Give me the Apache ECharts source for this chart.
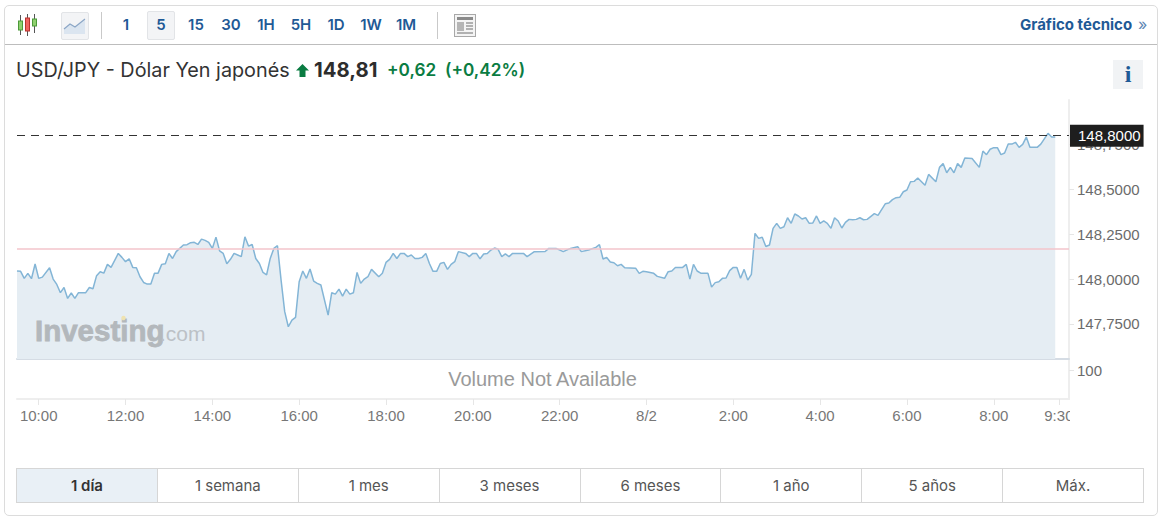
<!DOCTYPE html>
<html lang="es">
<head>
<meta charset="utf-8">
<title>USD/JPY</title>
<script src="https://cdn.jsdelivr.net/npm/echarts@6/dist/echarts.min.js"></script>
<style>
html,body{margin:0;padding:0;background:#fff;width:1166px;height:523px;overflow:hidden;font-family:Inter,"Noto Sans",sans-serif}
#frame{position:absolute;left:4px;top:5px;width:1152px;height:509px;border:1px solid #dcdcdc;border-radius:5px;box-sizing:content-box}
#toolbarLine{position:absolute;left:5px;top:44px;width:1152px;height:1px;background:#bdbdbd}
#chart{position:absolute;left:0;top:0;width:1166px;height:523px}
.abs{position:absolute;white-space:nowrap}
.tf{position:absolute;top:12px;height:26px;line-height:26px;font-size:15px;font-weight:600;color:#1f5a96;text-align:center;transform:translateX(-50%)}
.sep{position:absolute;top:12px;width:1px;height:27px;background:#c9c9c9}
.btn{position:absolute;background:#f3f4f6;border:1px solid #e2e4e7;border-radius:2px;box-sizing:border-box}
#tabs{position:absolute;left:16px;top:468px;width:1128px;height:35px;display:flex;box-sizing:border-box;border:1px solid #d6d6d6}
#tabs div{flex:1;text-align:center;line-height:33px;font-size:15px;color:#555;border-left:1px solid #d6d6d6}
#tabs div:first-child{border-left:0;background:#e9f0f6;font-weight:600;color:#333}
</style>
</head>
<body>
<div id="frame"></div>
<div id="toolbarLine"></div>

<svg class="abs" style="left:16px;top:13px" width="24" height="24" viewBox="0 0 24 24">
  <g stroke="#555" stroke-width="1"><path d="M4.500 2V22M11.500 1V23M18.500 1V20"/></g>
  <rect x="2.500" y="8" width="4" height="9" fill="#8fd06f" stroke="#4c9a3a"/>
  <rect x="9.500" y="5" width="4" height="13" fill="#f0635f" stroke="#b8322e"/>
  <rect x="16.500" y="6" width="4" height="7" fill="#8fd06f" stroke="#4c9a3a"/>
</svg>
<div class="btn" style="left:61px;top:12px;width:28px;height:28px"></div>
<svg class="abs" style="left:63px;top:15px" width="24" height="22" viewBox="0 0 24 22">
  <path d="M1 14L7 9L12 12L22 4V19H1Z" fill="#dbe5f0"/>
  <path d="M1 14L7 9L12 12L22 4" fill="none" stroke="#8ba6c6" stroke-width="1.200"/>
</svg>
<div class="sep" style="left:101px"></div>
<div class="btn" style="left:147px;top:11px;width:28px;height:29px"></div>
<div class="tf" style="left:126px">1</div>
<div class="tf" style="left:161px">5</div>
<div class="tf" style="left:196px">15</div>
<div class="tf" style="left:231px">30</div>
<div class="tf" style="left:266px">1H</div>
<div class="tf" style="left:301px">5H</div>
<div class="tf" style="left:336px">1D</div>
<div class="tf" style="left:371px">1W</div>
<div class="tf" style="left:406px">1M</div>
<div class="sep" style="left:437px"></div>
<svg class="abs" style="left:454px;top:14px" width="22" height="23" viewBox="0 0 22 23">
  <rect x="0.500" y="0.500" width="21" height="22" fill="#f4f4f4" stroke="#a8a8a8"/>
  <rect x="3" y="3" width="16" height="3" fill="#8a8a8a"/>
  <rect x="3" y="8" width="7" height="9" fill="#b5b5b5"/>
  <path d="M12 9H19M12 12H19M12 15H19M3 19H19" stroke="#9a9a9a" stroke-width="1.300"/>
</svg>
<div class="abs" style="left:1020px;top:15px;font-size:15px;font-weight:700;color:#1f5a96;line-height:20px">Gráfico técnico</div>
<div class="abs" style="left:1138px;top:14px;font-size:16px;color:#5d86b3;line-height:20px">»</div>

<div class="abs" style="left:16px;top:59px;font-size:19.800px;color:#333;line-height:22px">USD/JPY - Dólar Yen japonés</div>
<svg class="abs" style="left:296px;top:64px" width="13" height="13" viewBox="0 0 13 13"><path d="M6.500 0L13 6.500H9.500V13H3.500V6.500H0Z" fill="#0a7c42"/></svg>
<div class="abs" style="left:314px;top:58px;font-size:20.300px;font-weight:700;color:#2d2d2d;line-height:24px">148,81</div>
<div class="abs" style="left:387px;top:59px;font-size:17.200px;font-weight:600;color:#0a7c42;line-height:22px">+0,62</div>
<div class="abs" style="left:445px;top:59px;font-size:17.200px;font-weight:600;color:#0a7c42;line-height:22px">(+0,42%)</div>
<div class="abs" style="left:1113px;top:60px;width:30px;height:29px;background:#f1f3f5;text-align:center;font:700 24px/28px 'Liberation Serif',serif;color:#1f5a96">i</div>

<div id="chart"></div>

<div id="tabs">
  <div>1 día</div><div>1 semana</div><div>1 mes</div><div>3 meses</div><div>6 meses</div><div>1 año</div><div>5 años</div><div>Máx.</div>
</div>

<script>
// Five-minute bar number (0 = 9:30 on 1 Aug) of each vertex
const bars = [0,1,2,3,4,5,6,7,9,10,11,12,13,14,15,16,17,19,20,21,22,23,24,25,26,28,29,30,31,32,33,34,35,36,37,38,39,40,41,42,43,44,46,47,48,49,50,51,52,53,54,55,56,
57,58,59,60,61,62,63,64,65,66,67,68,69,70,71,72,73,74,75,76,77,78,79,80,81,82,83,84,86,87,88,89,90,91,92,93,94,95,96,97,98,100,101,102,103,104,105,106,107,108,109,110,111,112,113,114,
115,116,117,118,119,120,121,122,124,125,126,127,128,129,130,131,132,133,134,135,136,137,140,141,143,146,147,149,151,153,155,156,158,160,161,162,163,164,165,166,167,168,171,172,
173,174,176,177,179,180,181,182,184,185,186,187,188,189,191,192,193,194,195,196,197,198,199,200,201,202,203,204,205,206,207,208,209,210,211,212,213,214,215,216,217,218,219,220,221,222,223,224,225,226,227,228,229,230,
231,232,233,234,235,237,238,240,241,242,243,244,245,246,247,248,249,251,252,254,255,256,257,258,259,260,261,262,264,266,267,268,269,270,271,272,273,274,275,276,277,278,279,280,282,283,285,286,287];
// USD/JPY price at each of those vertices
const prices = [148.045,148.043,148.004,148.032,148.002,148.084,148.004,148.011,148.063,148.000,147.970,147.924,147.953,147.892,147.922,147.892,147.924,147.924,147.953,147.946,148.019,148.041,148.033,148.082,148.065,148.143,148.121,148.097,148.113,148.065,148.063,148.013,147.981,147.972,147.972,148.032,148.033,148.082,148.086,148.143,148.115,148.153,148.190,148.192,148.203,148.205,148.193,148.223,148.216,148.205,148.171,148.234,148.157,
148.143,148.086,148.110,148.143,148.134,148.125,148.236,148.184,148.193,148.115,148.087,148.037,148.024,148.115,148.171,148.186,147.994,147.818,147.734,147.771,147.786,147.985,148.045,148.004,148.056,147.989,147.976,147.967,147.799,147.924,147.916,147.944,147.905,147.944,147.916,147.924,148.037,147.976,148.000,148.013,148.054,148.013,148.032,148.093,148.110,148.143,148.115,148.143,148.143,148.125,148.134,148.115,148.115,148.121,148.143,148.087,
148.043,148.043,148.087,148.093,148.054,148.082,148.097,148.153,148.143,148.125,148.143,148.143,148.113,148.140,148.143,148.162,148.173,148.166,148.125,148.140,148.125,148.143,148.143,148.125,148.153,148.154,148.171,148.171,148.153,148.171,148.180,148.153,148.162,148.177,148.192,148.112,148.121,148.095,148.091,148.074,148.082,148.063,148.061,148.032,
148.043,148.041,148.032,148.015,148.004,148.041,148.045,148.065,148.065,148.082,148.000,148.082,148.045,148.033,148.032,147.955,147.980,147.985,148.004,148.006,148.047,148.065,148.065,148.004,148.054,147.994,148.026,148.255,148.227,148.233,148.182,148.190,148.283,148.311,148.283,148.292,148.342,148.311,148.363,148.352,148.335,148.342,148.311,148.313,148.352,148.311,148.324,148.311,148.283,148.342,148.324,148.285,148.316,148.333,
148.331,148.333,148.342,148.331,148.333,148.365,148.355,148.420,148.424,148.443,148.454,148.456,148.487,148.497,148.543,148.545,148.564,148.523,148.584,148.543,148.623,148.644,148.593,148.623,148.593,148.644,148.623,148.675,148.673,148.623,148.714,148.694,148.724,148.733,148.733,148.694,148.703,148.753,148.753,148.763,148.735,148.751,148.792,148.735,148.735,148.753,148.813,148.792,148.792];
const previousClose = 148.172;
const lastPrice = 148.798;
const lastPriceLabel = '148,8000';
const priceTicks = [147.75,148.00,148.25,148.50,148.75];
const volumeTicks = [100];
// Time-axis ticks, in minutes after 00:00 on 1 Aug, and their labels
const timeTicks = [600,720,840,960,1080,1200,1320,1440,1560,1680,1800,1920,2010];
const timeLabels = ['10:00','12:00','14:00','16:00','18:00','20:00','22:00','8/2','2:00','4:00','6:00','8:00','9:30'];

const comma = (v, d) => v.toFixed(d).replace('.', ',');
const axisFont = {fontFamily:'"Liberation Sans",Arial,sans-serif', fontSize:15, color:'#6b6b6b'};
const chart = echarts.init(document.getElementById('chart'), null, {renderer:'svg'});
const xMin = 570, xMax = 2024;

chart.setOption({
  animation:false,
  backgroundColor:'transparent',
  grid:[
    {left:17, right:97, top:100, height:259},
    {left:17, right:97, top:359, height:40}
  ],
  xAxis:[
    {type:'value', gridIndex:0, min:xMin, max:xMax, splitLine:{show:false},
     axisLine:{show:true, onZero:false, lineStyle:{color:'#d5dce4', width:2}}, axisTick:{show:false}, axisLabel:{show:false}},
    {type:'value', gridIndex:1, min:xMin, max:xMax, splitLine:{show:false},
     axisLine:{show:true, onZero:false, lineStyle:{color:'#eeeeee', width:2}},
     axisTick:{show:true, length:6, customValues:timeTicks, lineStyle:{color:'#e6e6e6'}},
     axisLabel:Object.assign({show:true, margin:9, customValues:timeTicks,
       formatter:v => timeLabels[timeTicks.indexOf(v)]}, axisFont, {color:'#777777'})}
  ],
  yAxis:[
    {type:'value', gridIndex:0, position:'right', min:147.554, max:148.999, splitLine:{show:false},
     axisLine:{show:true, onZero:false, lineStyle:{color:'#eeeeee', width:2}},
     axisTick:{show:true, length:5, customValues:priceTicks, lineStyle:{color:'#e6e6e6'}},
     axisLabel:Object.assign({show:true, margin:8, padding:[0,0,2,0], customValues:priceTicks, formatter:v => comma(v,4)}, axisFont)},
    {type:'value', gridIndex:1, position:'right', min:0, max:138, splitLine:{show:false},
     axisLine:{show:true, onZero:false, lineStyle:{color:'#eeeeee', width:2}},
     axisTick:{show:true, length:5, customValues:volumeTicks, lineStyle:{color:'#e6e6e6'}},
     axisLabel:Object.assign({show:true, margin:8, customValues:volumeTicks}, axisFont)}
  ],
  series:[{
    type:'line', xAxisIndex:0, yAxisIndex:0, symbol:'none', smooth:false,
    data:bars.map((b,i) => [570 + 5*b, prices[i]]),
    lineStyle:{color:'#83b5d6', width:1.5},
    areaStyle:{color:'#e5edf3', origin:'start', opacity:1},
    markLine:{
      silent:true, symbol:'none', animation:false,
      data:[
        {yAxis:previousClose, lineStyle:{color:'#f3c4cb', width:1.5, type:'solid'}, label:{show:false}},
        {yAxis:lastPrice, lineStyle:{color:'#333333', width:1, type:[8,6]},
         label:{show:true, position:'end', distance:1, formatter:lastPriceLabel,
                backgroundColor:'#1e1e1e', color:'#ffffff', padding:[4,3,3,8],
                fontFamily:'"Liberation Sans",Arial,sans-serif', fontSize:15}}
      ]
    }
  }],
  graphic:[
    {type:'rect', z:50, shape:{x:1070,y:401,width:40,height:30}, style:{fill:'#ffffff'}},
    {type:'text', z:60, x:542.5, y:379, style:{text:'Volume Not Available', align:'center', verticalAlign:'middle',
      font:'20px "Liberation Sans",Arial,sans-serif', fill:'#9a9a9a'}},
    {type:'text', z:60, x:35, y:330, style:{text:'Investing', align:'left', verticalAlign:'middle',
      font:'bold 29.500px "Liberation Sans",Arial,sans-serif', fill:'#b3b8bc', stroke:'#b3b8bc', lineWidth:0.8}},
    {type:'text', z:60, x:160, y:333, style:{text:'.com', align:'left', verticalAlign:'middle',
      font:'21px "Liberation Sans",Arial,sans-serif', fill:'#bcc1c6'}},
    {type:'circle', z:61, shape:{cx:123.5,cy:318,r:2.2}, style:{fill:'#efe3b0'}}
  ]
});
</script>
</body>
</html>
